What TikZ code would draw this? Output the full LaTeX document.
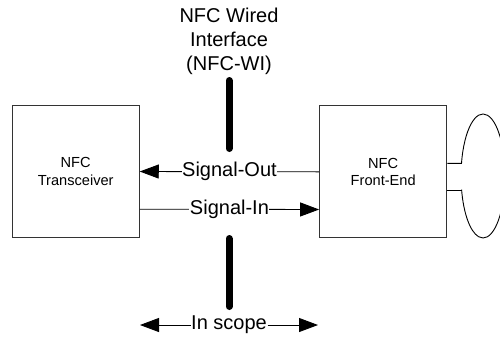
\documentclass[tikz,border=0pt]{standalone}
\usepackage{fontspec}
\setmainfont{Liberation Sans}
\usetikzlibrary{arrows.meta}
\begin{document}
\begin{tikzpicture}[x=1pt,y=1pt,
  blk/.style={draw=black!80,line width=1.1pt,minimum width=127pt,minimum height=132pt,inner sep=0pt,align=center,font=\fontsize{14.6}{17.5}\selectfont},
  arr/.style={draw=black,line width=0.9pt,-{Triangle[length=19pt,width=14pt]}},
  darr/.style={draw=black,line width=0.9pt,{Triangle[length=19pt,width=14pt]}-{Triangle[length=19pt,width=14pt]}},
  lbl/.style={fill=white,inner sep=0.5pt,font=\fontsize{20}{24}\selectfont},
  bar/.style={line width=7pt,line cap=round},
  thin/.style={draw=black,line width=0.9pt}]
\useasboundingbox (0,0) rectangle (500,-338);
\node[blk] (tr) at (75.7,-171.5) {NFC\\Transceiver};
\node[blk] (fe) at (383.2,-171.8) {NFC\\Front-End};
\node[font=\fontsize{20}{24}\selectfont,align=center] (title) at (229,-41) {NFC Wired\\Interface\\(NFC-WI)};
\coordinate (b1a) at (229,-80.5);
\coordinate (b1b) at (229,-148.5);
\coordinate (b2a) at (229,-238.5);
\coordinate (b2b) at (229,-306.5);
\draw[bar] (b1a) -- (b1b);
\draw[bar] (b2a) -- (b2b);
\draw[arr] (fe.west) -- node[lbl] {Signal-Out} (tr.east);
\draw[arr] ([yshift=-37.7pt]tr.east) -- node[lbl] {Signal-In} ([yshift=-37.7pt]fe.west);
\node[lbl] (scope) at (229,-325) {In scope};
\coordinate (sl) at (140,-325);
\coordinate (sr) at (318,-325);
\draw[arr] (scope.west) -- (sl);
\draw[arr] (scope.east) -- (sr);
\coordinate (la) at (461.5,-163.3);
\coordinate (lb) at (461.5,-190);
\draw[thin] ([yshift=8.5pt]fe.east) -- (la) arc[start angle=168.2,end angle=-167.3,x radius=22,y radius=62];
\draw[thin] ([yshift=-18.2pt]fe.east) -- (lb);
\end{tikzpicture}
\end{document}
